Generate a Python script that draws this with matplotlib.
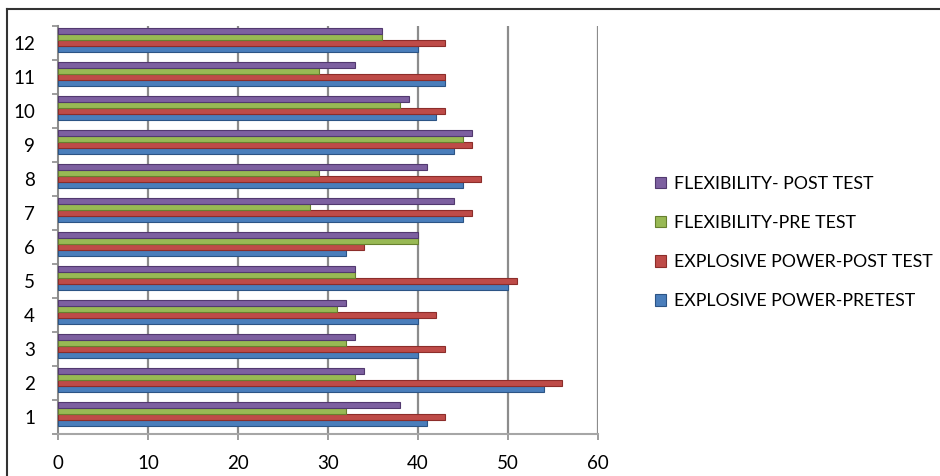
import matplotlib
matplotlib.use("Agg")
import matplotlib.pyplot as plt
from matplotlib.lines import Line2D
import numpy as np

categories = [str(i) for i in range(1, 13)]
explosive_pre = [41, 54, 40, 40, 50, 32, 45, 45, 44, 42, 43, 40]
explosive_post = [43, 56, 43, 42, 51, 34, 46, 47, 46, 43, 43, 43]
flex_pre = [32, 33, 32, 31, 33, 40, 28, 29, 45, 38, 29, 36]
flex_post = [38, 34, 33, 32, 33, 40, 44, 41, 46, 39, 33, 36]
series_names = ["EXPLOSIVE POWER-PRETEST", "EXPLOSIVE POWER-POST TEST",
                "FLEXIBILITY-PRE TEST", "FLEXIBILITY- POST TEST"]
x_ticks = [0, 10, 20, 30, 40, 50, 60]

colors = ["#4A7EBB", "#BE4B48", "#98B954", "#7D60A0"]
edges = ["#2C5485", "#8C2D2A", "#67802F", "#52396F"]

plt.rcParams['font.family'] = ['Lato', 'DejaVu Sans']

fig = plt.figure(figsize=(9.4, 4.76), dpi=100)
ax = fig.add_axes([58/940, 42/476, 540/940, 408/476])

pos = np.arange(1, 13)
offsets = [-0.176, 0.0, 0.176, 0.352]
data = [explosive_pre, explosive_post, flex_pre, flex_post]
handles = []
for i, (vals, off) in enumerate(zip(data, offsets)):
    b = ax.barh(pos + off, vals, height=0.16, color=colors[i], edgecolor=edges[i],
                linewidth=0.8, label=series_names[i], zorder=3)
    handles.append(b)

ax.set_xlim(0, 60)
ax.set_ylim(0.5, 12.5)
ax.set_xticks(x_ticks)
ax.set_xticklabels([str(v) for v in x_ticks], fontsize=13.5)
ax.set_yticks(pos)
ax.set_yticklabels(categories, fontsize=13.5)
ax.set_yticks(np.arange(0.5, 13, 1), minor=True)
ax.tick_params(axis='y', which='major', length=0, pad=16.5)
ax.tick_params(axis='y', which='minor', length=4.5, color='#8c8c8c', width=1.2)
ax.tick_params(axis='x', which='major', length=4, color='#8c8c8c', width=1.2, pad=11)
for v in x_ticks[1:]:
    ax.axvline(v, color='#8c8c8c', linewidth=1.6, zorder=1)
for s in ['top', 'right']:
    ax.spines[s].set_visible(False)
ax.spines['left'].set_color('#8c8c8c')
ax.spines['left'].set_linewidth(1.5)
ax.spines['bottom'].set_color('#a6a6a6')
ax.spines['bottom'].set_linewidth(1.5)

leg = fig.legend(handles[::-1], series_names[::-1], loc='upper left',
                 bbox_to_anchor=(639/940, 1 - 160/476), frameon=False,
                 fontsize=12.8, handlelength=0.6, handleheight=0.6,
                 handletextpad=0.45, labelspacing=1.3)

fig.add_artist(Line2D([7/940, 1], [1 - 9/476, 1 - 9/476], color='#333333', linewidth=1.5))
fig.add_artist(Line2D([7/940, 7/940], [0, 1 - 9/476], color='#333333', linewidth=1.5))

fig.savefig("out.png", dpi=100)
